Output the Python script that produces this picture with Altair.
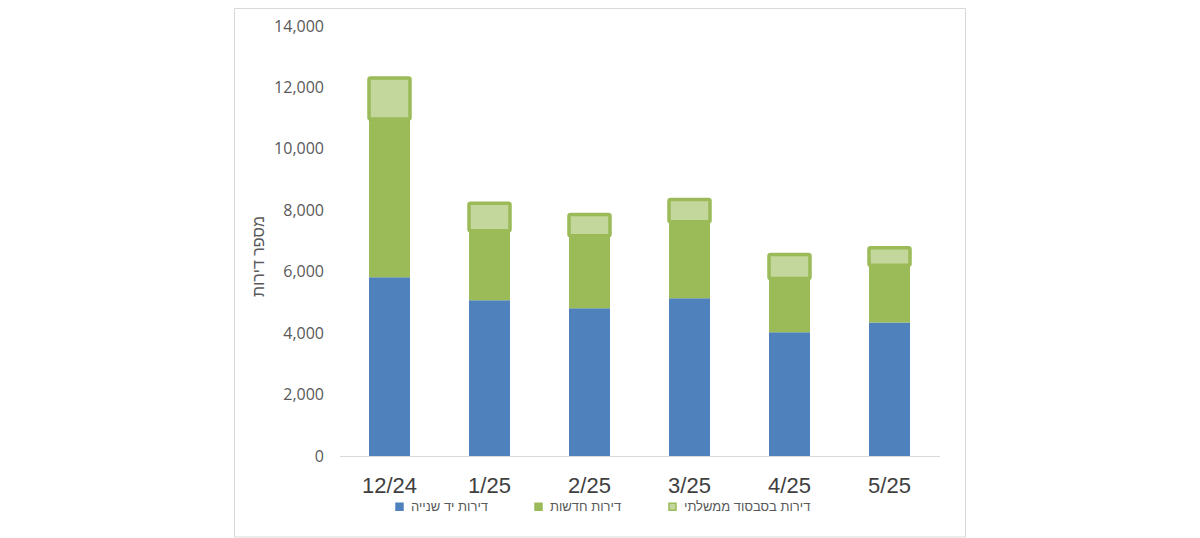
import altair as alt
import pandas as pd

months = ["12/24", "1/25", "2/25", "3/25", "4/25", "5/25"]
series = ["דירות יד שנייה", "דירות חדשות", "דירות בסבסוד ממשלתי"]
second_hand = [5820, 5070, 4810, 5140, 4030, 4350]
new_homes = [5150, 2260, 2360, 2490, 1750, 1860]
subsidized = [1340, 900, 690, 720, 780, 570]
y_ticks = [0, 2000, 4000, 6000, 8000, 10000, 12000, 14000]
fills = ["#4F81BD", "#9BBB59", "#C3D69B"]
strokes = ["#4F81BD", "#9BBB59", "#9BBB59"]

rows = []
for i, m in enumerate(months):
    for k, vals in enumerate([second_hand, new_homes, subsidized]):
        rows.append({"month": m, "series": series[k], "value": vals[i], "order": k})
df = pd.DataFrame(rows)

legend = alt.Legend(
    title=None, orient="none", direction="horizontal", legendX=53.5, legendY=474,
    symbolType="square", symbolSize=49, symbolStrokeWidth=1.5,
    labelFontSize=13, labelColor="#595959", labelOffset=5, columnPadding=44,
    padding=0, labelFont="Liberation Sans",
)

x_axis = alt.Axis(title=None, labelAngle=0, labelFontSize=22, labelColor="#404040",
                  labelFont="Liberation Sans", ticks=False, tickSize=0, labelPadding=19,
                  domainColor="#D9D9D9", domainWidth=1)
y_axis = alt.Axis(values=y_ticks, format=",d", title="מספר דירות", grid=False,
                  domain=False, ticks=False, tickSize=0, labelPadding=16,
                  labelFontSize=16, labelColor="#595959", labelFont="Open Sans",
                  titleFontSize=16, titleFontWeight="normal", titleColor="#595959",
                  titleFont="Liberation Sans", titleAngle=270, titleBaseline="middle",
                  titleX=-81.5, titleY=230)
x_scale = alt.Scale(paddingInner=0.59, paddingOuter=0.295)
y_scale = alt.Scale(domain=[0, 14000], nice=False)

bars = alt.Chart(df).mark_bar(size=41, strokeWidth=0).encode(
    x=alt.X("month:N", sort=months, scale=x_scale, axis=x_axis),
    y=alt.Y("value:Q", stack="zero", scale=y_scale, axis=y_axis),
    fill=alt.Fill("series:N", scale=alt.Scale(domain=series, range=fills), legend=legend),
    stroke=alt.Stroke("series:N", scale=alt.Scale(domain=series, range=strokes), legend=legend),
    order=alt.Order("order:Q"),
)

tops = alt.Chart(df).transform_stack(
    stack="value", groupby=["month"], sort=[alt.SortField("order")], as_=["y0", "y1"]
).transform_filter(alt.datum.order == 2).mark_bar(
    size=41, fill="#C3D69B", stroke="#9BBB59", strokeWidth=3.5, cornerRadius=1.5
).encode(
    x=alt.X("month:N", sort=months, scale=x_scale, axis=x_axis),
    y=alt.Y("y0:Q", scale=y_scale, axis=y_axis),
    y2="y1:Q",
)

frame = alt.Chart(pd.DataFrame({"f": [0]})).mark_rect(
    fillOpacity=0, stroke="#D9D9D9", strokeWidth=1
).encode(x=alt.value(-105), x2=alt.value(626), y=alt.value(-17.5), y2=alt.value(511))

chart = alt.layer(frame, bars, tops).properties(
    width=600, height=430,
    padding={"left": 331.5, "top": 18, "right": 252, "bottom": 82},
    autosize=alt.AutoSizeParams(type="none"),
).configure_view(stroke=None)

chart.save("out.html", embed_options={"renderer": "svg", "actions": False})
